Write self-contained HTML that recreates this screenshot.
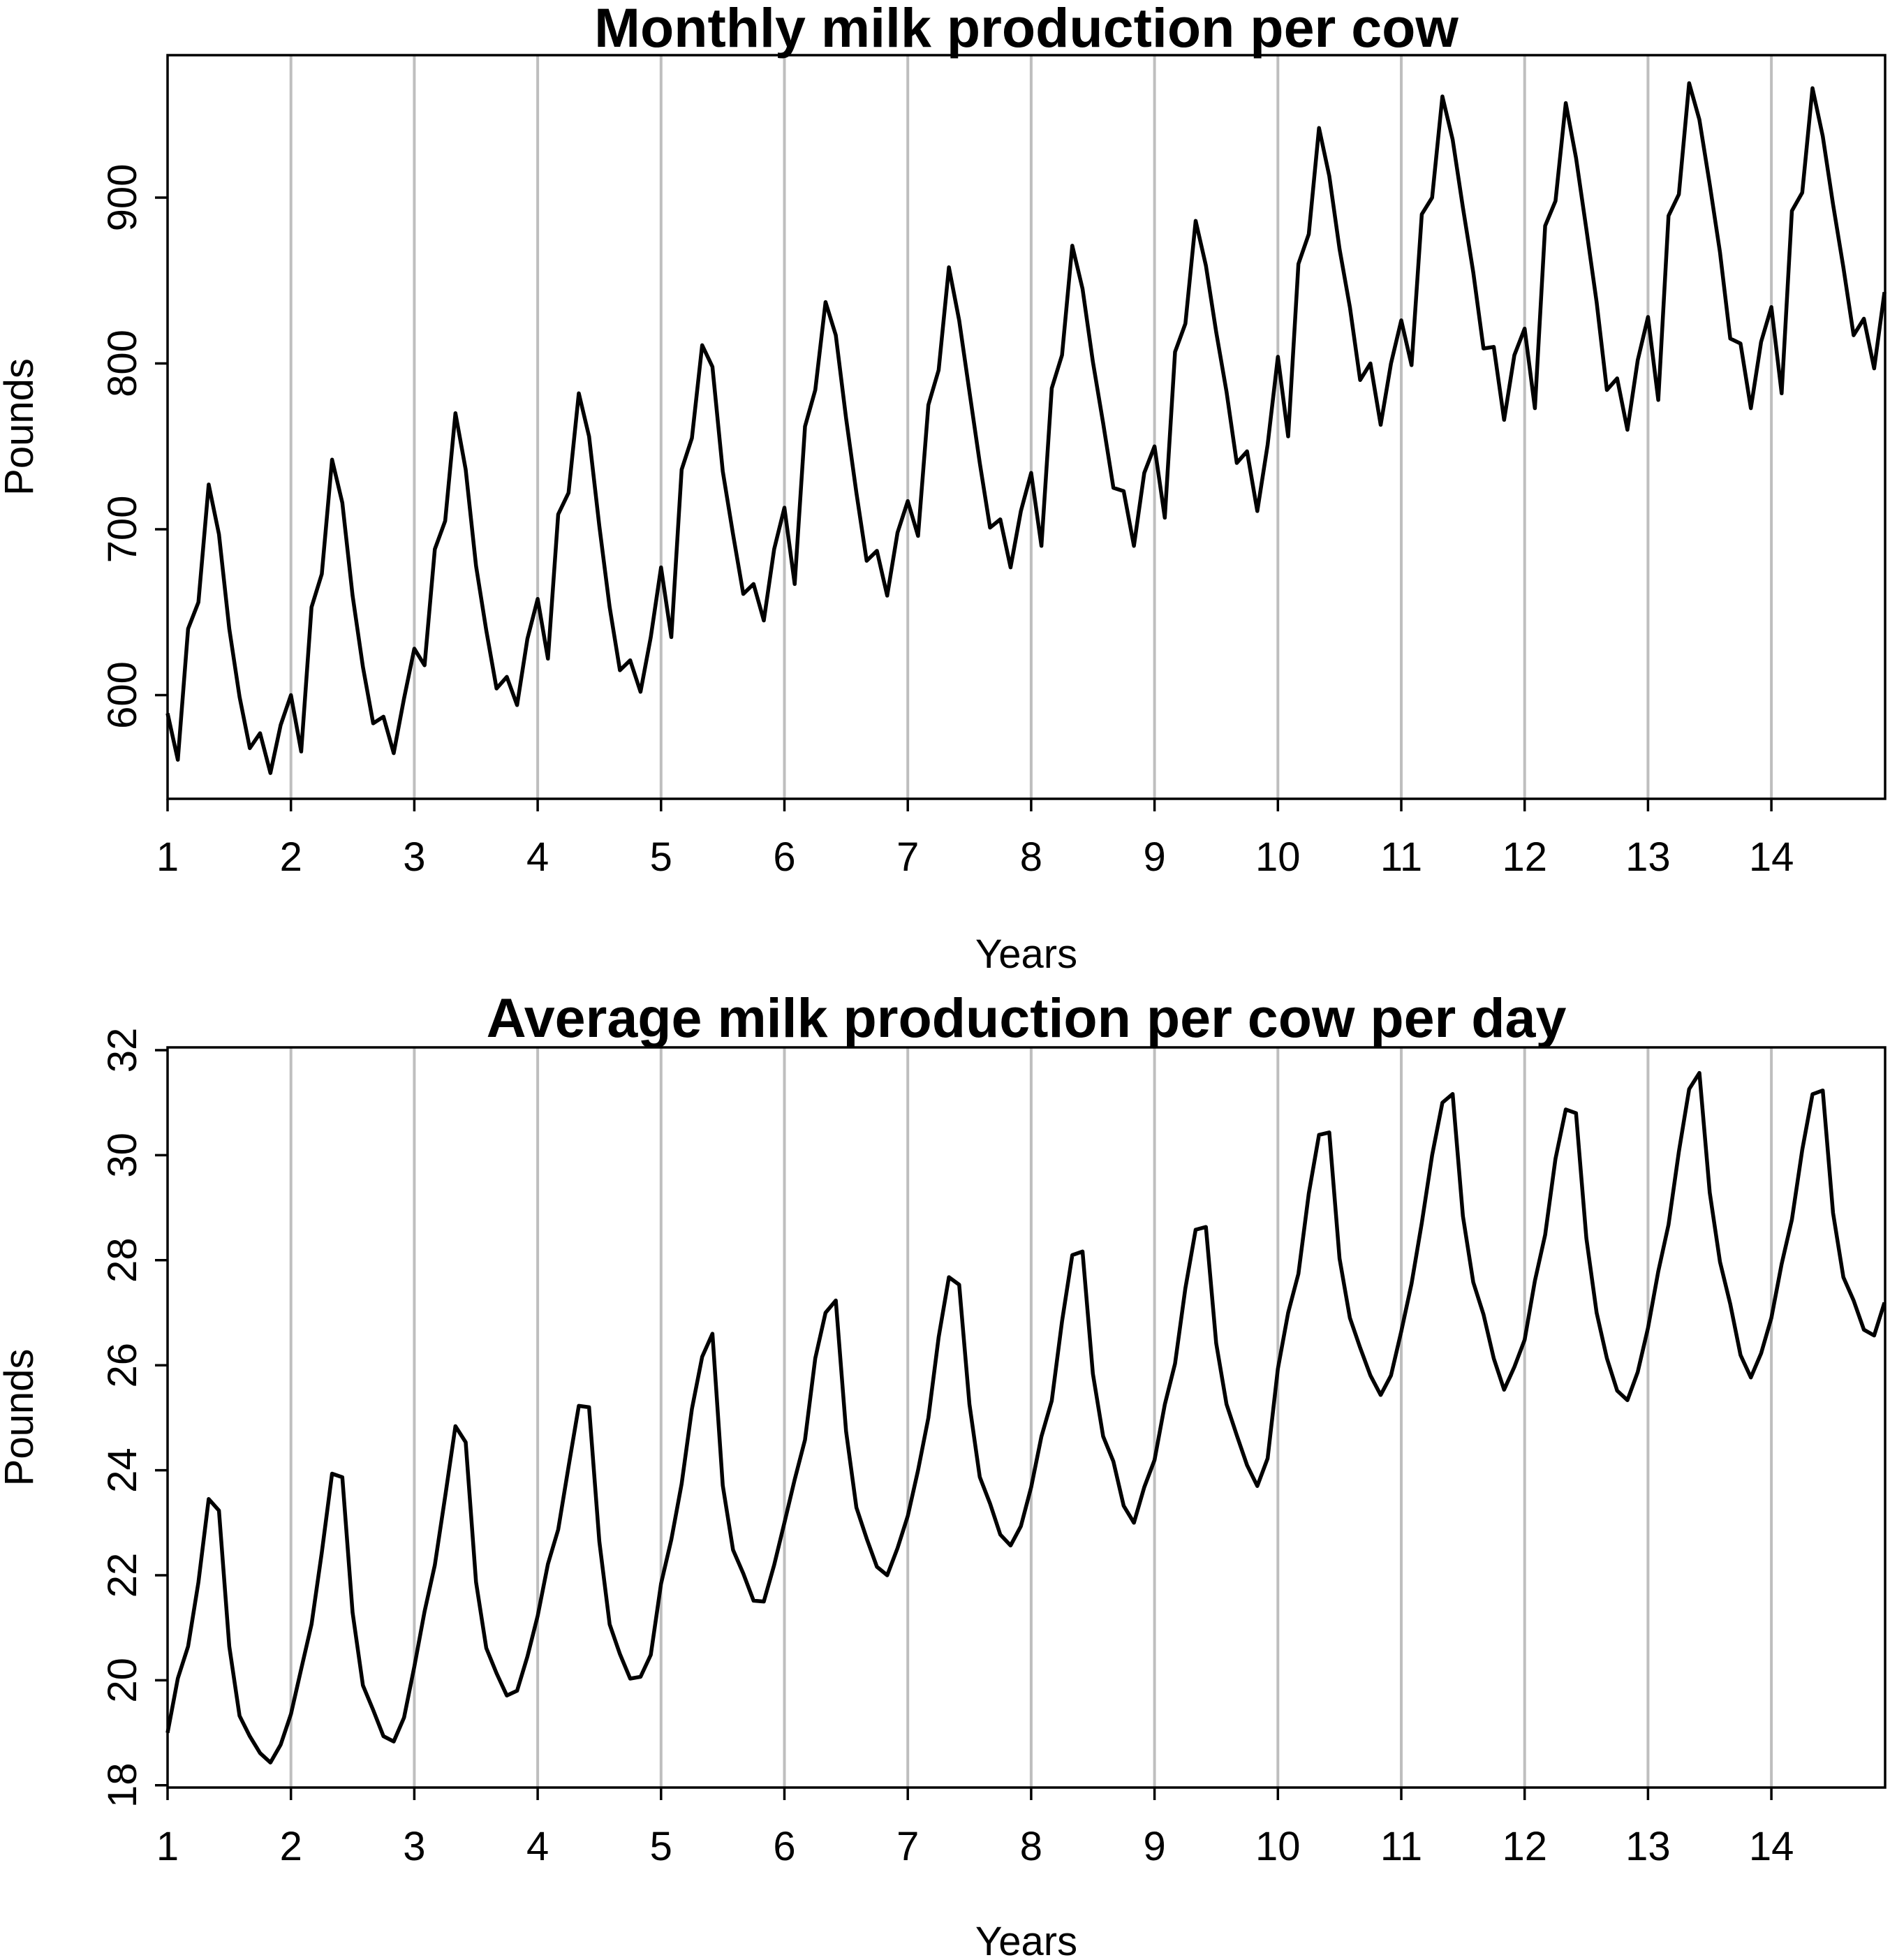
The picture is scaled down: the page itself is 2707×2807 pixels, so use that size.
<!DOCTYPE html>
<html><head><meta charset="utf-8">
<style>html,body{margin:0;padding:0;background:#fff;}svg{display:block;}</style>
</head><body>
<svg id="c" width="2707" height="2807" xmlns="http://www.w3.org/2000/svg" font-family="'Liberation Sans', sans-serif"></svg>
<script>
const milk = [589,561,640,656,727,697,640,599,568,577,553,582,
600,566,653,673,742,716,660,617,583,587,565,598,
628,618,688,705,770,736,678,639,604,611,594,634,
658,622,709,722,782,756,702,653,615,621,602,635,
677,635,736,755,811,798,735,697,661,667,645,688,
713,667,762,784,837,817,767,722,681,687,660,698,
717,696,775,796,858,826,783,740,701,706,677,711,
734,690,785,805,871,845,801,764,725,723,690,734,
750,707,807,824,886,859,819,783,740,747,711,751,
804,756,860,878,942,913,869,834,790,800,763,800,
826,799,890,900,961,935,894,855,809,810,766,805,
821,773,883,898,957,924,881,837,784,791,760,802,
828,778,889,902,969,947,908,867,815,812,773,813,
834,782,892,903,966,937,896,858,817,827,797,843];
const daysInMonth = [31,28,31,30,31,30,31,31,30,31,30,31, 31,28,31,30,31,30,31,31,30,31,30,31,
31,29,31,30,31,30,31,31,30,31,30,31, 31,28,31,30,31,30,31,31,30,31,30,31,
31,28,31,30,31,30,31,31,30,31,30,31, 31,28,31,30,31,30,31,31,30,31,30,31,
31,29,31,30,31,30,31,31,30,31,30,31, 31,28,31,30,31,30,31,31,30,31,30,31,
31,28,31,30,31,30,31,31,30,31,30,31, 31,28,31,30,31,30,31,31,30,31,30,31,
31,29,31,30,31,30,31,31,30,31,30,31, 31,28,31,30,31,30,31,31,30,31,30,31,
31,28,31,30,31,30,31,31,30,31,30,31, 31,28,31,30,31,30,31,31,30,31,30,31];
const perDay = milk.map((v,i)=>v/daysInMonth[i]);
const xTicks = [1,2,3,4,5,6,7,8,9,10,11,12,13,14];
const yTicks1 = [600,700,800,900];
const yTicks2 = [18,20,22,24,26,28,30,32];

const NS="http://www.w3.org/2000/svg";
const svg=document.getElementById('c');
function mk(tag,attrs,parent){const e=document.createElementNS(NS,tag);for(const k in attrs)e.setAttribute(k,attrs[k]);(parent||svg).appendChild(e);return e;}

const L=240,R=2700,xPerYear=176.7;
const xs=t=>L+(t-1)*xPerYear;

function panel(name,top,bottom,yRef1,yPix1,yPerUnit,yT,data,title,titleY,tickLabY,xTitleY){
  const g=mk('g',{});
  
  
  const ys=v=>yPix1-(v-yRef1)*yPerUnit;
  xTicks.slice(1).forEach(t=>{
    const l=mk('line',{x1:xs(t),x2:xs(t),y1:top,y2:bottom,stroke:'#bebebe','stroke-width':4},g);
    
    
  });
  const pts=data.map((v,i)=>xs(1+i/12).toFixed(1)+','+ys(v).toFixed(1)).join(' ');
  const pl=mk('polyline',{points:pts,fill:'none',stroke:'#000','stroke-width':5.5,'stroke-linejoin':'round'},g);
  
  
  const box=mk('rect',{x:L,y:top,width:R-L,height:bottom-top,fill:'none',stroke:'#000','stroke-width':3.5},g);
  
  
  xTicks.forEach(t=>{
    mk('line',{x1:xs(t),x2:xs(t),y1:bottom,y2:bottom+18,stroke:'#000','stroke-width':3.5},g);
    const tx=mk('text',{x:xs(t),y:tickLabY,'font-size':58,'text-anchor':'middle'},g);
    tx.textContent=t;
    
    
  });
  yT.forEach(v=>{
    const y=ys(v);
    mk('line',{x1:L,x2:L-18,y1:y,y2:y,stroke:'#000','stroke-width':3.5},g);
    const tx=mk('text',{x:0,y:0,'font-size':58,'text-anchor':'middle',transform:`translate(195,${y}) rotate(-90)`},g);
    tx.textContent=v;
    
    
  });
  const tt=mk('text',{x:(L+R)/2,y:titleY,'font-size':79,'font-weight':'bold','text-anchor':'middle'},g);
  tt.textContent=title;
  
  
  const xt=mk('text',{x:(L+R)/2,y:xTitleY,'font-size':58,'text-anchor':'middle'},g);
  xt.textContent='Years';
  
  
  const yt=mk('text',{x:0,y:0,'font-size':58,'text-anchor':'middle',transform:`translate(47,${(top+bottom)/2}) rotate(-90)`},g);
  yt.textContent='Pounds';
  
  
}
panel('monthly-panel',79,1144,900,283,2.375,yTicks1,milk,'Monthly milk production per cow',67,1247,1386);
panel('daily-panel',1500,2560,32,1504,75.2,yTicks2,perDay,'Average milk production per cow per day',1485,2664,2800);
</script>
</body></html>
